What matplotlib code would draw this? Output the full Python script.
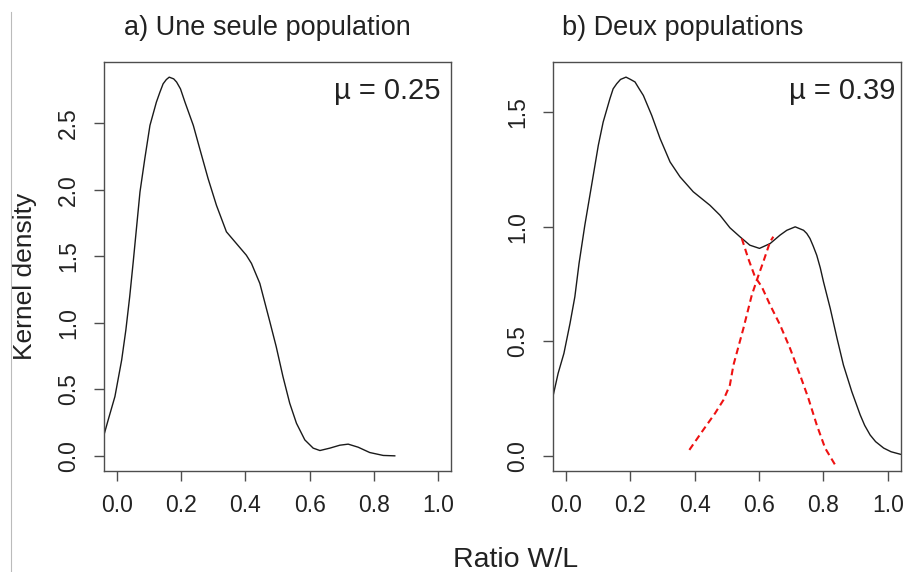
import matplotlib
matplotlib.use("Agg")
import matplotlib.pyplot as plt
from matplotlib.lines import Line2D

plt.rcParams['font.family'] = ['Liberation Sans', 'DejaVu Sans']

# a) one population: kernel density
ratio_a = [-0.040, -0.027, -0.006, 0.015, 0.028, 0.040, 0.051, 0.072, 0.087, 0.103,
           0.123, 0.134, 0.144, 0.154, 0.163, 0.177, 0.186, 0.198, 0.212, 0.238,
           0.258, 0.284, 0.310, 0.341, 0.372, 0.403, 0.419, 0.445, 0.476, 0.496,
           0.517, 0.538, 0.559, 0.585, 0.611, 0.632, 0.663, 0.694, 0.720, 0.751,
           0.787, 0.829, 0.865]
dens_a = [0.158, 0.270, 0.446, 0.721, 0.946, 1.197, 1.460, 1.985, 2.235, 2.485,
          2.660, 2.735, 2.798, 2.830, 2.848, 2.835, 2.811, 2.760, 2.660, 2.485,
          2.310, 2.085, 1.884, 1.685, 1.597, 1.509, 1.447, 1.297, 1.010, 0.821,
          0.596, 0.396, 0.245, 0.120, 0.058, 0.040, 0.058, 0.080, 0.088, 0.065,
          0.025, 0.003, 0.000]

# b) two populations: total density
ratio_b = [-0.040, -0.025, -0.007, 0.012, 0.027, 0.040, 0.058, 0.079, 0.100, 0.115,
           0.136, 0.146, 0.157, 0.169, 0.186, 0.200, 0.214, 0.227, 0.240, 0.266,
           0.292, 0.323, 0.354, 0.395, 0.447, 0.478, 0.509, 0.540, 0.571, 0.601,
           0.634, 0.665, 0.686, 0.712, 0.738, 0.748, 0.758, 0.768, 0.779, 0.790,
           0.800, 0.821, 0.842, 0.862, 0.888, 0.914, 0.928, 0.945, 0.962, 0.987,
           1.010, 1.039]
dens_b = [0.266, 0.360, 0.447, 0.578, 0.694, 0.839, 1.006, 1.180, 1.355, 1.456,
          1.558, 1.601, 1.623, 1.642, 1.652, 1.642, 1.631, 1.601, 1.572, 1.485,
          1.384, 1.282, 1.217, 1.152, 1.093, 1.050, 0.995, 0.956, 0.919, 0.905,
          0.926, 0.963, 0.984, 0.999, 0.984, 0.970, 0.948, 0.915, 0.875, 0.820,
          0.759, 0.643, 0.513, 0.396, 0.280, 0.179, 0.133, 0.091, 0.062, 0.034,
          0.018, 0.007]

# b) second population rising / first population falling (red dashed)
ratio_up = [0.383, 0.426, 0.463, 0.489, 0.509, 0.520, 0.551, 0.577, 0.598, 0.613, 0.634, 0.644]
dens_up = [0.026, 0.113, 0.186, 0.244, 0.309, 0.396, 0.556, 0.701, 0.788, 0.847, 0.934, 0.956]
ratio_down = [0.546, 0.566, 0.587, 0.608, 0.634, 0.665, 0.696, 0.727, 0.753, 0.779, 0.805, 0.836]
dens_down = [0.948, 0.861, 0.781, 0.738, 0.658, 0.571, 0.469, 0.353, 0.251, 0.135, 0.034, -0.039]

xticks = [0.0, 0.2, 0.4, 0.6, 0.8, 1.0]
yticks_a = [0.0, 0.5, 1.0, 1.5, 2.0, 2.5]
yticks_b = [0.0, 0.5, 1.0, 1.5]

W, H = 907, 572
TXT = '#222222'
AX = '#4d4d4d'

fig = plt.figure(figsize=(W / 100, H / 100), dpi=100)
ax_a = fig.add_axes([104 / W, 1 - 471 / H, 347 / W, 409 / H])
ax_b = fig.add_axes([553.3 / W, 1 - 471 / H, 347.4 / W, 409 / H])


def style(ax, yticks, ylim):
    ax.set_xlim(-0.04, 1.04)
    ax.set_ylim(*ylim)
    ax.set_xticks(xticks)
    ax.set_xticklabels([f"{t:.1f}" for t in xticks])
    ax.set_yticks(yticks)
    ax.set_yticklabels([f"{t:.1f}" for t in yticks], rotation=90, va='center')
    ax.tick_params(length=7.2, width=1.0, color=AX, labelsize=16.5, labelcolor=TXT)
    ax.tick_params(axis='x', pad=9)
    ax.tick_params(axis='y', pad=10)
    for s in ax.spines.values():
        s.set_color(AX)
        s.set_linewidth(1.0)


ax_a.plot(ratio_a, dens_a, color='#1a1a1a', lw=1.0, solid_joinstyle='round')
style(ax_a, yticks_a, (-0.114, 2.962))

ax_b.plot(ratio_b, dens_b, color='#1a1a1a', lw=1.0, solid_joinstyle='round')
ax_b.plot(ratio_up, dens_up, color='#ee1111', lw=1.5, dashes=(3.2, 2.0))
ax_b.plot(ratio_down, dens_down, color='#ee1111', lw=1.5, dashes=(3.2, 2.0))
style(ax_b, yticks_b, (-0.066, 1.718))

fig.text(267 / W, 1 - 35 / H, "a) Une seule population", ha='center', va='baseline',
         fontsize=19.5, color=TXT)
fig.text(683 / W, 1 - 35 / H, "b) Deux populations", ha='center', va='baseline',
         fontsize=19.5, color=TXT)
fig.text(440 / W, 1 - 99 / H, "\u00b5 = 0.25", ha='right', va='baseline',
         fontsize=21, color=TXT)
fig.text(895 / W, 1 - 99 / H, "\u00b5 = 0.39", ha='right', va='baseline',
         fontsize=21, color=TXT)
fig.text(25 / W, 1 - 276 / H, "Kernel density", rotation=90, ha='center', va='center',
         fontsize=19, color=TXT)
fig.text(515.5 / W, 1 - 566.7 / H, "Ratio W/L", ha='center', va='baseline',
         fontsize=20.5, color=TXT)

fig.add_artist(Line2D([11 / W, 11 / W], [0, 1 - 12 / H], color='#bbbbbb', lw=0.8))

fig.savefig("out.png", dpi=100)
